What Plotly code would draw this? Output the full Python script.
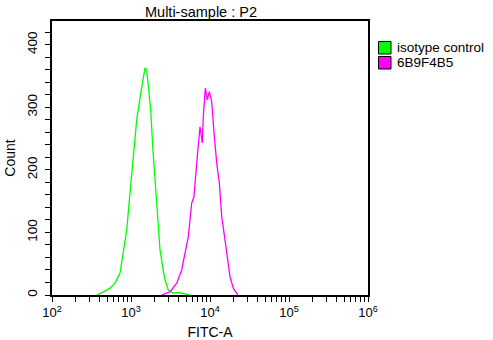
import plotly.graph_objects as go

# Data (FITC-A intensity, event count)
iso_fitc = [368, 450, 542, 627, 726, 800, 883, 971, 1051, 1181, 1300, 1406, 1504, 1580,
            1656, 1776, 1883, 2013, 2115, 2217, 2329, 2518, 2692, 2965, 3403, 4000, 4800, 5585]
iso_count = [0, 5, 11, 19, 35, 72, 104, 163, 211, 280, 315, 344, 363, 360,
             333, 296, 237, 189, 152, 109, 72, 45, 24, 8, 3, 4, 2, 0]

ab_fitc = [2449, 3118, 3787, 4383, 4828, 5312, 5862, 6269, 6790, 7472, 7993, 8226, 8730,
           9245, 9800, 10510, 11250, 12160, 13130, 14070, 15490, 16570, 17920, 19730, 21790, 22500]
ab_count = [0, 5, 19, 40, 67, 93, 147, 157, 211, 269, 243, 285, 331,
            312, 325, 309, 259, 211, 179, 125, 88, 56, 29, 11, 2, 0]

series_names = ["isotype control", "6B9F4B5"]
series_colors = ["#00ff00", "#ff00ff"]

x_major = [100, 1000, 10000, 100000, 1000000]
x_major_text = ["10<sup>2</sup>", "10<sup>3</sup>", "10<sup>4</sup>", "10<sup>5</sup>", "10<sup>6</sup>"]
y_major = [0, 100, 200, 300, 400]

x_ticks = []
x_text = []
for i, d in enumerate(x_major):
    x_ticks.append(d)
    x_text.append(x_major_text[i])
    if d < 1000000:
        for m in range(2, 10):
            x_ticks.append(d * m)
            x_text.append("")

y_ticks = list(range(0, 421, 20))
y_text = [str(v) if v in y_major else "" for v in y_ticks]

W, H = 493, 340
L, R, T, B = 52, 368, 21, 295

def px_x(p):
    return (p - L) / (R - L)

def px_y(p):
    return (B - p) / (B - T)

fig = go.Figure()
for xs, ys, c, n in [(iso_fitc, iso_count, series_colors[0], series_names[0]),
                     (ab_fitc, ab_count, series_colors[1], series_names[1])]:
    fig.add_trace(go.Scatter(x=xs, y=ys, mode="lines", name=n,
                             line=dict(color=c, width=1.3),
                             showlegend=False))

font_family = "Liberation Sans, Arial, sans-serif"

# manual legend (squares + labels) placed to the right of the plot
shapes = []
annotations = []
legend_rows = [(41.5, 54.0), (56.5, 69.0)]
for (y0, y1), name, c in zip(legend_rows, series_names, series_colors):
    shapes.append(dict(type="rect", xref="paper", yref="paper",
                       x0=px_x(378.5), x1=px_x(391), y0=px_y(y1), y1=px_y(y0),
                       fillcolor=c, line=dict(color="black", width=1)))
    annotations.append(dict(text=name, xref="paper", yref="paper", x=px_x(394.5), y=px_y((y0 + y1) / 2),
                            xanchor="left", yanchor="middle", showarrow=False,
                            font=dict(size=13.5, family=font_family, color="black")))

fig.update_layout(
    width=W, height=H,
    margin=dict(l=L, r=W - R, t=T, b=H - B, autoexpand=False),
    paper_bgcolor="white", plot_bgcolor="white",
    font=dict(family=font_family, size=13, color="black"),
    title=dict(text="Multi-sample : P2", x=201 / W, xanchor="center",
               y=1 - 12 / H, yanchor="middle", font=dict(size=14.5)),
    showlegend=False,
    shapes=shapes,
    annotations=annotations,
)
fig.update_xaxes(type="log", range=[2, 6], tickmode="array", tickvals=x_ticks, ticktext=x_text,
                 ticks="outside", ticklen=5, tickcolor="black", showgrid=False, zeroline=False,
                 showline=True, linecolor="black", linewidth=1.5, mirror=True, automargin=False,
                 title=dict(text="FITC-A", standoff=10, font=dict(size=14)), tickfont=dict(size=13))
fig.update_yaxes(range=[0, 438], tickmode="array", tickvals=y_ticks, ticktext=y_text,
                 ticks="outside", ticklen=5, tickcolor="black", showgrid=False, zeroline=False,
                 showline=True, linecolor="black", linewidth=1.5, mirror=True, tickangle=-90,
                 automargin=False, ticklabelstandoff=3,
                 title=dict(text="Count", standoff=6, font=dict(size=14)), tickfont=dict(size=13.5))

fig.write_html("out.html")
